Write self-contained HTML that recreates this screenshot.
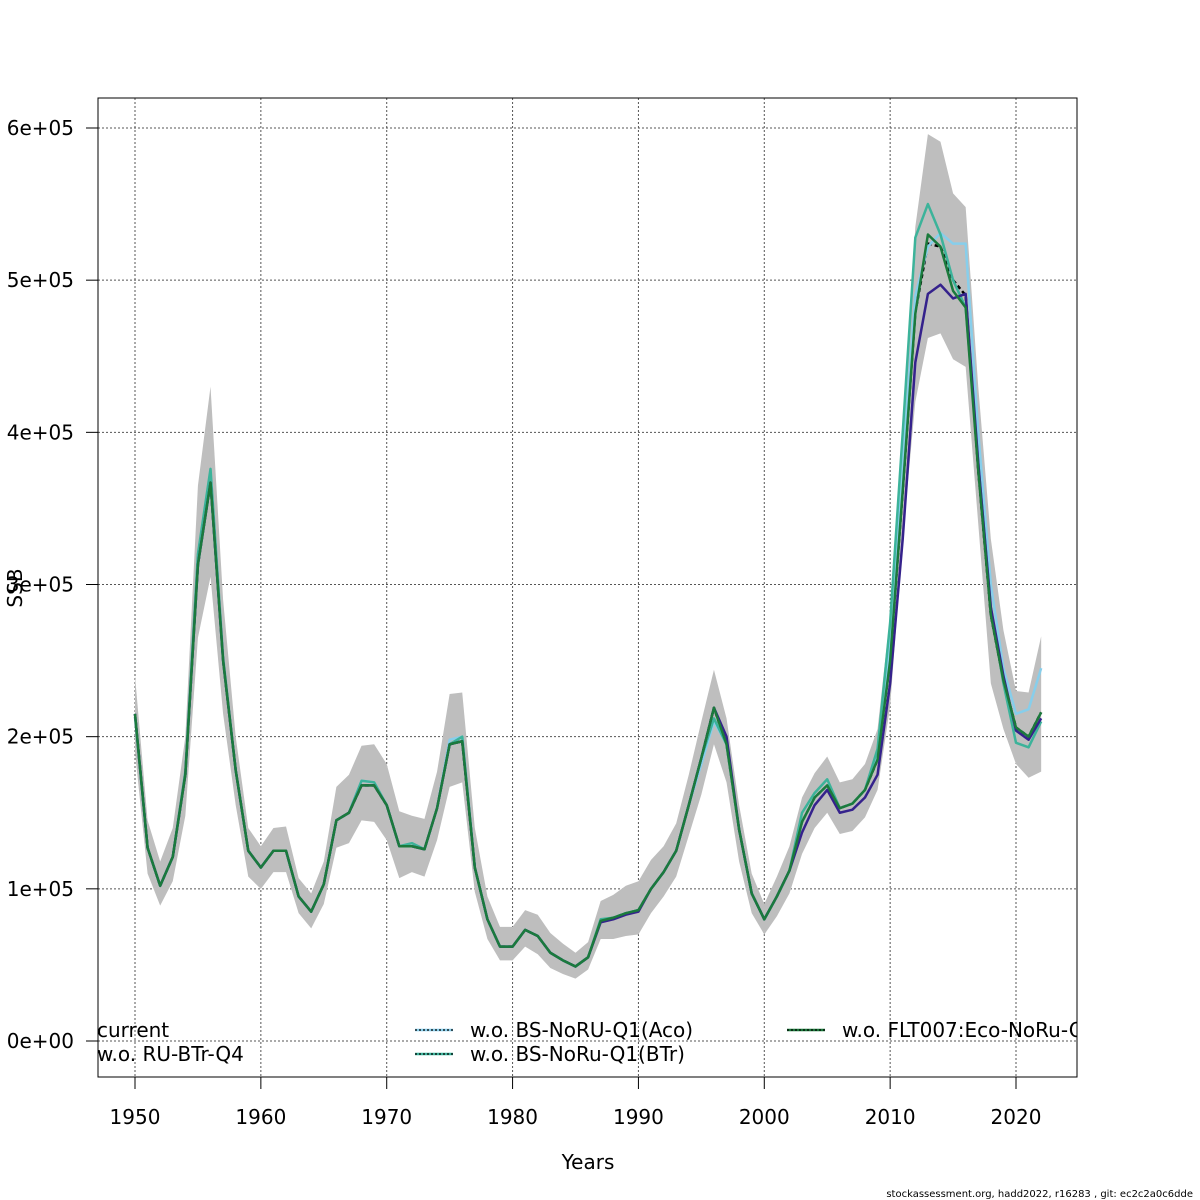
<!DOCTYPE html>
<html><head><meta charset="utf-8"><style>
html,body{margin:0;padding:0;background:#fff;}
svg{display:block;font-family:"DejaVu Sans","Liberation Sans",sans-serif;}
</style></head><body>
<svg id="chart" width="1200" height="1200" viewBox="0 0 1200 1200">
<defs><clipPath id="pc"><rect x="98" y="98" width="979" height="979"/></clipPath></defs>
<g id="grid"></g>
<g id="band" clip-path="url(#pc)"></g>
<g id="lines" clip-path="url(#pc)"></g>
<g id="legend" clip-path="url(#pc)"></g>
<rect x="98" y="98" width="979" height="979" fill="none" stroke="#000" stroke-width="1"/>
<g id="axes"></g>
<text x="588" y="1169" font-size="20" text-anchor="middle">Years</text>
<text transform="translate(22,588) rotate(-90)" font-size="20" text-anchor="middle">SSB</text>
<text x="1193" y="1197" font-size="10" text-anchor="end">stockassessment.org, hadd2022, r16283 , git: ec2c2a0c6dde</text>
</svg>
<script>
const years = [];
for (let y = 1950; y <= 2022; y++) years.push(y);
const current = [215,127,102,121,175,313,367,250,178,125,114,125,125,95,85,103,145,150,168,168,155,128,128,126,153,195,197,114,80,62,62,73,69,58,53,49,55,79,81,84,86,100,111,125,155,186,219,195,139,97,80,95,112,144,160,168,153,156,165,185,250,362,479,524,522,500,490,375,280,237,206,200,216];
const upper = [240,145,118,140,200,365,430,290,200,140,128,140,141,107,97,118,167,175,194,195,182,151,148,146,177,228,229,140,95,75,75,86,83,71,64,58,65,92,96,102,105,119,128,143,175,210,244,212,155,110,90,108,128,160,176,187,170,172,182,205,280,400,535,596,591,557,548,430,330,270,230,229,266];
const lower = [190,110,89,105,148,265,305,215,155,108,100,111,111,84,74,90,127,130,145,144,132,107,111,108,132,167,170,98,67,53,53,62,57,48,44,41,47,67,67,69,70,84,95,108,135,162,195,170,118,84,70,82,97,123,140,150,136,138,147,165,220,330,420,462,465,448,443,340,235,205,182,173,177];
const woAco = [215,127,102,121,175,313,367,250,178,125,114,125,125,95,85,103,145,150,171,170,155,128,128,126,153,198,200,114,80,62,62,73,69,58,53,49,55,79,81,84,86,100,111,125,155,182,210,195,139,97,80,95,112,144,160,168,153,156,165,190,262,380,490,522,531,524,524,400,300,245,215,218,245];
const woBTr = [213,127,102,121,177,320,376,252,178,125,114,125,125,95,85,103,145,150,171,170,155,128,130,126,153,195,200,114,80,62,62,73,69,58,53,49,55,80,81,84,86,100,111,125,155,186,212,195,139,97,80,95,112,150,163,172,153,156,165,192,275,400,528,550,530,500,482,380,285,235,196,193,210];
const woRU = [215,127,102,121,175,313,367,250,178,125,114,125,125,95,85,103,145,150,168,168,155,128,128,126,153,195,197,114,80,62,62,73,69,58,53,49,55,78,80,83,85,100,111,125,155,186,219,200,139,97,80,95,112,137,155,165,150,152,160,175,235,330,446,491,497,488,491,380,285,240,204,198,212];
const woFLT = [215,127,102,121,175,313,367,250,178,125,114,125,125,95,85,103,145,150,168,168,155,128,128,126,153,195,197,114,80,62,62,73,69,58,53,49,55,79,81,84,86,100,111,125,155,186,219,195,139,97,80,95,112,144,160,168,153,156,165,185,250,362,478,530,522,493,482,375,280,237,206,200,216];
const xTicks = [1950,1960,1970,1980,1990,2000,2010,2020];
const yTicks = [0,100,200,300,400,500,600];
const yTickLabels = ["0e+00","1e+05","2e+05","3e+05","4e+05","5e+05","6e+05"];

const NS = "http://www.w3.org/2000/svg";
const X = yr => 135 + (yr - 1950) * (1016 - 135) / 70;
const Y = v => 1041 - v * (1041 - 128) / 600;
function mk(tag, attrs, parent, txt) {
  const e = document.createElementNS(NS, tag);
  for (const k in attrs) e.setAttribute(k, attrs[k]);
  if (txt !== undefined) e.textContent = txt;
  parent.appendChild(e);
  return e;
}
const grid = document.getElementById('grid'), axes = document.getElementById('axes');
xTicks.forEach((t) => {
  const g = mk('line', {x1: X(t), x2: X(t), y1: 98, y2: 1077, stroke: '#555', 'stroke-width': 1, 'stroke-dasharray': '2,2'}, grid);
  
  
  const tk = mk('line', {x1: X(t), x2: X(t), y1: 1077, y2: 1089, stroke: '#000'}, axes);
  
  
  const lb = mk('text', {x: X(t), y: 1124, 'font-size': 20, 'text-anchor': 'middle'}, axes, String(t));
  
  
});
yTicks.forEach((t, i) => {
  const g = mk('line', {x1: 98, x2: 1077, y1: Y(t), y2: Y(t), stroke: '#555', 'stroke-width': 1, 'stroke-dasharray': '2,2'}, grid);
  
  
  const tk = mk('line', {x1: 86, x2: 98, y1: Y(t), y2: Y(t), stroke: '#000'}, axes);
  
  
  const lb = mk('text', {x: 74, y: Y(t) + 7, 'font-size': 20, 'text-anchor': 'end'}, axes, yTickLabels[i]);
  
  
});
let d = years.map((yr, i) => (i ? 'L' : 'M') + X(yr) + ',' + Y(upper[i])).join('');
for (let i = years.length - 1; i >= 0; i--) d += 'L' + X(years[i]) + ',' + Y(lower[i]);
const band = mk('path', {d: d + 'Z', fill: '#bebebe', stroke: 'none'}, document.getElementById('band'));


const lines = document.getElementById('lines');
function series(vals, color, name, dash) {
  const pts = years.map((yr, i) => X(yr) + ',' + Y(vals[i])).join(' ');
  const a = {points: pts, fill: 'none', stroke: color, 'stroke-width': 2.5, 'stroke-linejoin': 'round'};
  if (dash) a['stroke-dasharray'] = dash;
  const p = mk('polyline', a, lines);
  
  
}
series(current, '#000', 'line-current', '4,3');
series(woAco, '#87ceeb', 'line-wo-bs-noru-q1-aco');
series(woBTr, '#3cb39a', 'line-wo-bs-noru-q1-btr');
series(woRU, '#35228c', 'line-wo-ru-btr-q4');
series(woFLT, '#1b7a3c', 'line-wo-flt007');
const lg = document.getElementById('legend');
const entries = [
  {x: 42, y: 1030, c: '#000', t: 'current', n: 'legend-current'},
  {x: 42, y: 1054, c: '#35228c', t: 'w.o. RU-BTr-Q4', n: 'legend-wo-ru-btr-q4'},
  {x: 415, y: 1030, c: '#87ceeb', t: 'w.o. BS-NoRU-Q1(Aco)', n: 'legend-wo-bs-noru-q1-aco'},
  {x: 415, y: 1054, c: '#3cb39a', t: 'w.o. BS-NoRu-Q1(BTr)', n: 'legend-wo-bs-noru-q1-btr'},
  {x: 787, y: 1030, c: '#1b7a3c', t: 'w.o. FLT007:Eco-NoRu-Q1', n: 'legend-wo-flt007'}
];
entries.forEach(e => {
  const g = mk('g', {}, lg);
  
  
  mk('line', {x1: e.x, x2: e.x + 38, y1: e.y, y2: e.y, stroke: e.c, 'stroke-width': 2.5}, g);
  mk('line', {x1: e.x, x2: e.x + 38, y1: e.y, y2: e.y, stroke: '#000', 'stroke-width': 1.2, 'stroke-dasharray': '2,2'}, g);
  mk('text', {x: e.x + 55, y: e.y + 7, 'font-size': 20}, g, e.t);
});
</script>
</body></html>
